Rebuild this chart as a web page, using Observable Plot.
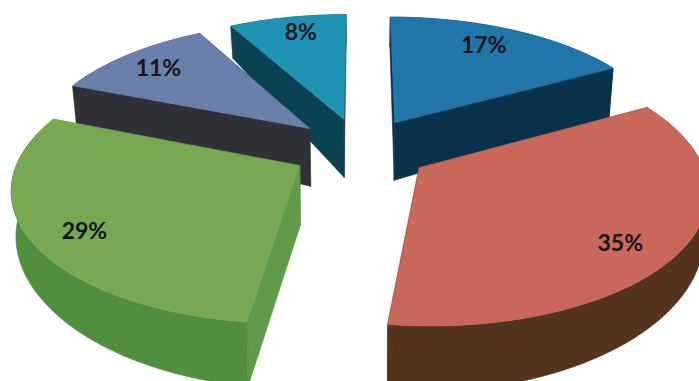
<!DOCTYPE html>
<html>
<head>
<meta charset="utf-8">
<script src="https://cdn.jsdelivr.net/npm/d3@7"></script>
<script src="https://cdn.jsdelivr.net/npm/@observablehq/plot@0.6"></script>
<style>
  html, body { margin: 0; padding: 0; background: #fff; overflow: hidden; }
  svg { display: block; }
</style>
</head>
<body>
<div id="chart"></div>
<script>
// Share of each slice, clockwise from twelve o'clock.
const sliceNames = ["a", "b", "c", "d", "e"];
const shares = [17, 35, 29, 11, 8];
const topColors = ["#2176a9", "#c8675a", "#79a853", "#6b7fab", "#1f93b3"];
const outerWallColors = ["#08324b", "#54331f", "#4f8f3f", "#303136", "#0a4153"];
const sideWallColors = ["#08324b", "#54331f", "#5f9b49", "#303136", "#0a4153"];

// Where each percentage sits inside its slice: fraction of the sweep, fraction of the radius.
const labelSweep = [0.46, 0.54, 0.47, 0.48, 0.55];
const labelRadius = [0.8, 0.82, 0.83, 0.81, 0.83];

// Exploded pie in perspective: unit-radius pie on a ground plane, +Y towards the viewer.
const explode = 0.25;
const persp = 0.15;
const centre = [360, 148.7];
const scaleX = 278;
const scaleY = 128.5;
const wallByDepth = d3.scaleLinear().domain([-1.2, -0.7, -0.2, 1.2]).range([31, 60, 58, 66]);
const wallHeight = (X, Y) => wallByDepth(Y) - 11 * X * X;
const depth = (Y) => 1 / (1 - persp * Y);
const project = (X, Y, drop = 0) => ({
  x: centre[0] + scaleX * X * depth(Y) - (drop ? 4 * X : 0),
  y: centre[1] + scaleY * Y * depth(Y) + (drop ? wallHeight(X, Y) : 0)
});

const total = d3.sum(shares);
const rad = (share) => (share / total) * 2 * Math.PI;
let cumulative = 0;
const slices = shares.map((share, i) => {
  const a0 = rad(cumulative);
  cumulative += share;
  const a1 = rad(cumulative);
  const mid = (a0 + a1) / 2;
  const apex = [explode * Math.sin(mid), -explode * Math.cos(mid)];
  const ground = (a, r = 1) => [apex[0] + r * Math.sin(a), apex[1] - r * Math.cos(a)];
  const rim = d3.range(0, 61).map((k) => ground(a0 + ((a1 - a0) * k) / 60));
  return {i, share, a0, a1, mid, apex, ground, rim};
});

// Far slices are painted first so nearer ones overlap them.
const paintOrder = [4, 3, 0, 2, 1];
const faces = [];
const addFace = (id, color, pts) => pts.forEach((p) => faces.push({face: id, color, ...p}));
for (const idx of paintOrder) {
  const s = slices[idx];
  const n = sliceNames[idx];
  const up = (g) => project(g[0], g[1]);
  const down = (g) => project(g[0], g[1], 1);
  const first = s.rim[0];
  const last = s.rim[s.rim.length - 1];
  addFace(n + "-start", sideWallColors[idx], [up(s.apex), up(first), down(first), down(s.apex)]);
  addFace(n + "-outer", outerWallColors[idx], [...s.rim.map(up), ...s.rim.slice().reverse().map(down)]);
  addFace(n + "-end", sideWallColors[idx], [up(s.apex), up(last), down(last), down(s.apex)]);
  addFace(n + "-top", topColors[idx], [up(s.apex), ...s.rim.map(up)]);
}

const labels = slices.map((s, i) => {
  const g = s.ground(s.a0 + (s.a1 - s.a0) * labelSweep[i], labelRadius[i]);
  return {...project(g[0], g[1]), text: `${s.share}%`};
});

const chart = Plot.plot({
  width: 699,
  height: 381,
  margin: 0,
  x: {domain: [0, 699], axis: null},
  y: {domain: [381, 0], axis: null},
  style: {background: "#fff"},
  marks: [
    Plot.line(faces, {
      x: "x", y: "y", z: "face",
      fill: "color", stroke: "color", strokeWidth: 0.6,
      curve: "linear-closed", clip: true
    }),
    Plot.text(labels, {
      x: "x", y: "y", text: "text",
      fontFamily: "Lato", fontWeight: 700, fontSize: 23, fill: "#15151c"
    })
  ]
});
document.getElementById("chart").appendChild(chart);
</script>
</body>
</html>
